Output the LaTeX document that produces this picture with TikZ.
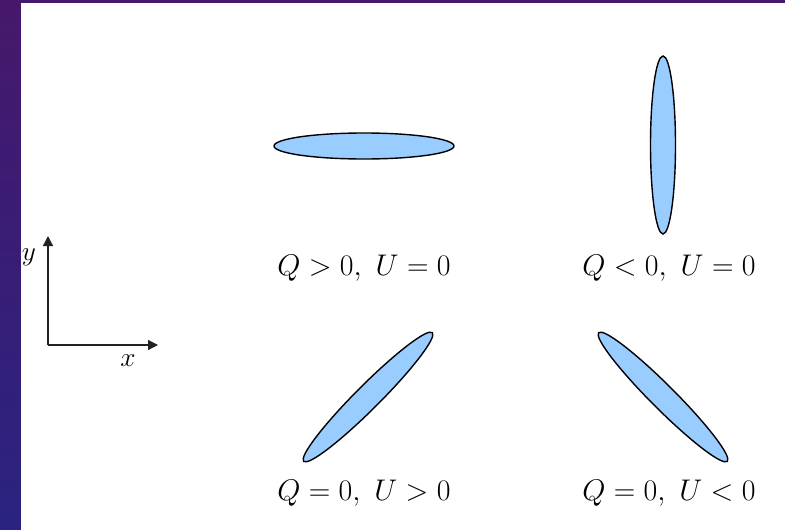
\documentclass[tikz,border=0pt]{standalone}
\usepackage{graphicx}
\usetikzlibrary{arrows.meta}
\definecolor{ellfill}{HTML}{99CCFF}
\definecolor{bgtop}{HTML}{46186C}
\definecolor{bgbot}{HTML}{2A2380}
\definecolor{axcol}{HTML}{222222}
\newcommand{\biglbl}[1]{\scalebox{1.2}{\fontsize{24.88}{30}\selectfont$#1$}}
\newcommand{\axlbl}[1]{\scalebox{1.1}{\fontsize{24.88}{30}\selectfont$#1$}}
\begin{document}
\begin{tikzpicture}[x=1pt,y=-1pt,
  pol/.style={draw=black,fill=ellfill,line width=1.4pt},
  axis/.style={draw=axcol,line width=1.3pt,-{Triangle[length=10pt,width=10pt]}}]
\useasboundingbox (0,0) rectangle (785,530);
\shade[top color=bgtop,bottom color=bgbot] (0,0) rectangle (21,530);
\fill[bgtop] (0,0) rectangle (785,3);
\fill[white] (21,3) rectangle (785,530);
% ellipses
\path[pol] (364,146) ellipse [x radius=90, y radius=13];
\path[pol] (663,145) ellipse [x radius=12.5, y radius=89];
\path[pol] (368,397) ellipse [x radius=91, y radius=12, rotate=45];
\path[pol] (663,397) ellipse [x radius=91, y radius=12, rotate=-45];
% labels
\node (l1) at (364,268) {\biglbl{Q>0,\ U=0}};
\node (l2) at (669,268) {\biglbl{Q<0,\ U=0}};
\node (l3) at (364,493) {\biglbl{Q=0,\ U>0}};
\node (l4) at (669,493) {\biglbl{Q=0,\ U<0}};
% axes
\coordinate (o) at (48,345);
\coordinate (ye) at (48,236);
\coordinate (xe) at (158,345);
\draw[axis] (o) -- (ye);
\draw[axis] (o) -- (xe);
\node (ylab) at (29,257) {\axlbl{y}};
\node (xlab) at (128,361) {\axlbl{x}};
\end{tikzpicture}
\end{document}
